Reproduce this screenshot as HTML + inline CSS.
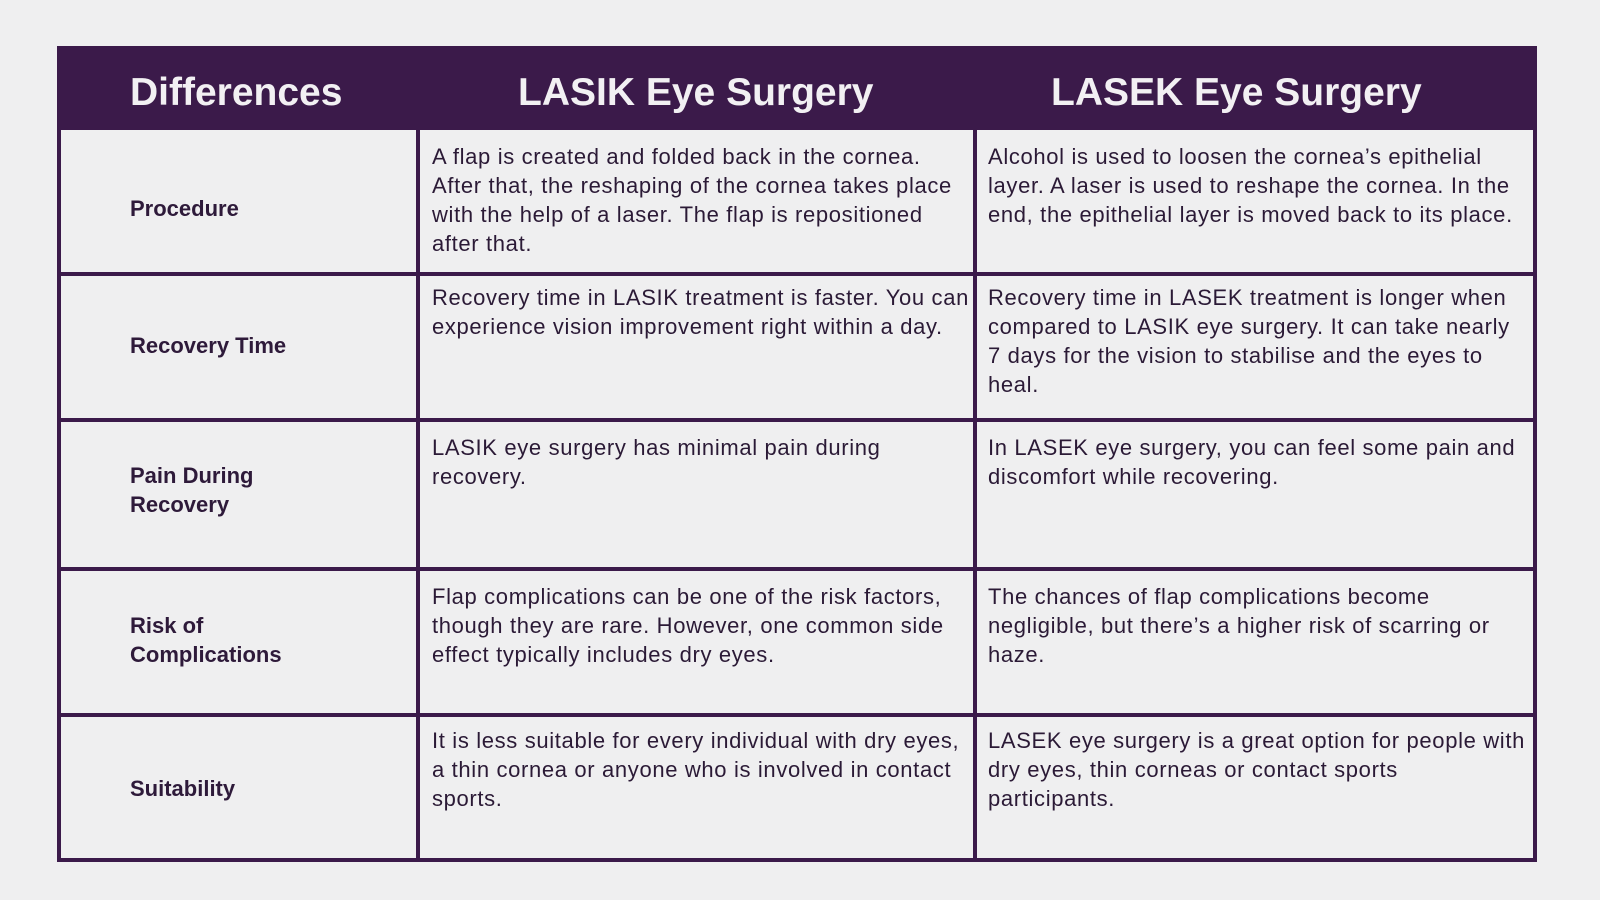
<!DOCTYPE html>
<html><head><meta charset="utf-8"><style>
body{margin:0;width:1600px;height:900px;background:#efeff0;position:relative;overflow:hidden;font-family:"Liberation Sans",sans-serif;color:#2b1a36}
.b{position:absolute;background:#3b1a4a}
.h{position:absolute;color:#f2f0f3;font-weight:bold;font-size:39px;white-space:nowrap;line-height:46px;top:70px}
.l{position:absolute;left:130px;font-weight:bold;font-size:22px;line-height:29px;white-space:nowrap;color:#2e1a3a}
.t{position:absolute;font-size:22px;line-height:29px;white-space:nowrap;letter-spacing:0.65px}
.c2{left:432px}.c3{left:988px}
</style></head><body>
<div class="b" style="left:57px;top:46px;width:1480px;height:84px"></div>
<div class="b" style="left:57px;top:46px;width:4px;height:816px"></div>
<div class="b" style="left:1533px;top:46px;width:4px;height:816px"></div>
<div class="b" style="left:57px;top:858px;width:1480px;height:4px"></div>
<div class="b" style="left:416px;top:128px;width:4px;height:732px"></div>
<div class="b" style="left:973px;top:128px;width:4px;height:732px"></div>
<div class="b" style="left:57px;top:272px;width:1480px;height:4px"></div>
<div class="b" style="left:57px;top:418px;width:1480px;height:4px"></div>
<div class="b" style="left:57px;top:567px;width:1480px;height:4px"></div>
<div class="b" style="left:57px;top:713px;width:1480px;height:4px"></div>

<div class="h" style="left:130px">Differences</div>
<div class="h" style="left:518px">LASIK Eye Surgery</div>
<div class="h" style="left:1051px">LASEK Eye Surgery</div>

<div class="l" style="top:194px">Procedure</div>
<div class="l" style="top:331px">Recovery Time</div>
<div class="l" style="top:461px">Pain During<br>Recovery</div>
<div class="l" style="top:611px">Risk of<br>Complications</div>
<div class="l" style="top:774px">Suitability</div>

<div class="t c2" style="top:142px">A flap is created and folded back in the cornea.<br>After that, the reshaping of the cornea takes place<br>with the help of a laser. The flap is repositioned<br>after that.</div>
<div class="t c3" style="top:142px">Alcohol is used to loosen the cornea’s epithelial<br>layer. A laser is used to reshape the cornea. In the<br>end, the epithelial layer is moved back to its place.</div>
<div class="t c2" style="top:283px">Recovery time in LASIK treatment is faster. You can<br>experience vision improvement right within a day.</div>
<div class="t c3" style="top:283px">Recovery time in LASEK treatment is longer when<br>compared to LASIK eye surgery. It can take nearly<br>7 days for the vision to stabilise and the eyes to<br>heal.</div>
<div class="t c2" style="top:433px">LASIK eye surgery has minimal pain during<br>recovery.</div>
<div class="t c3" style="top:433px">In LASEK eye surgery, you can feel some pain and<br>discomfort while recovering.</div>
<div class="t c2" style="top:582px">Flap complications can be one of the risk factors,<br>though they are rare. However, one common side<br>effect typically includes dry eyes.</div>
<div class="t c3" style="top:582px">The chances of flap complications become<br>negligible, but there’s a higher risk of scarring or<br>haze.</div>
<div class="t c2" style="top:726px">It is less suitable for every individual with dry eyes,<br>a thin cornea or anyone who is involved in contact<br>sports.</div>
<div class="t c3" style="top:726px">LASEK eye surgery is a great option for people with<br>dry eyes, thin corneas or contact sports<br>participants.</div>
</body></html>
